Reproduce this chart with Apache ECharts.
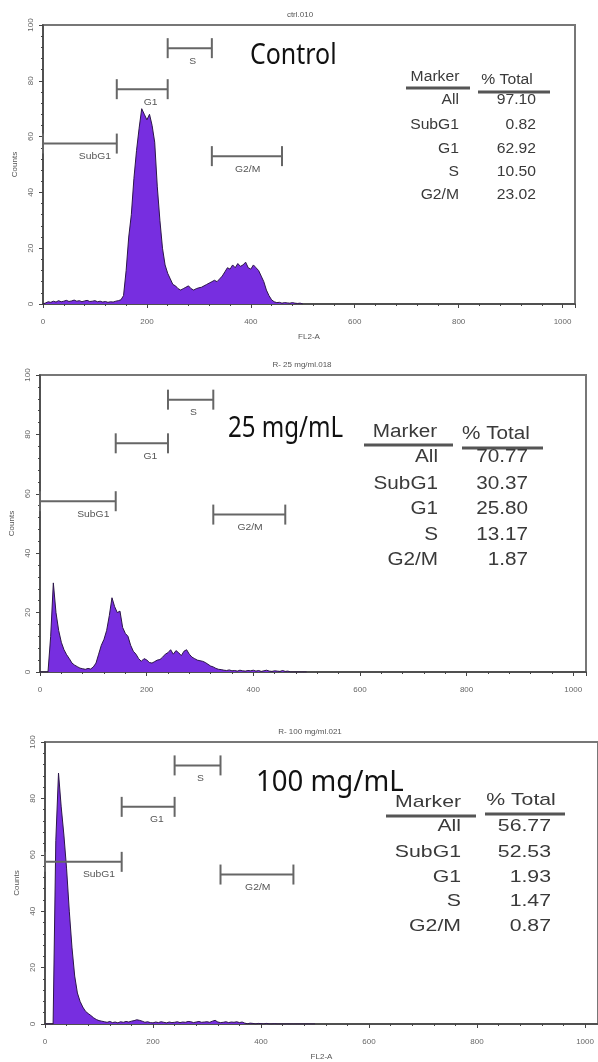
<!DOCTYPE html>
<html>
<head>
<meta charset="utf-8">
<script src="https://cdn.jsdelivr.net/npm/echarts@6/dist/echarts.min.js"></script>
<style>
  html, body { margin: 0; padding: 0; background: #fff; }
  #chart { width: 598px; height: 1062px; }
</style>
</head>
<body>
<div id="chart"></div>
<script>
// channel width of each count (FL2-A units)
const BIN = 5;

// counts per channel, FL2-A = 0, 5, 10 ... 500
const countsControl = [
  0, 0.4, 0.8, 0.6, 1.0, 0.7, 1.2, 0.8, 1.0, 1.3,
  0.9, 1.1, 1.4, 1.0, 1.2, 0.8, 1.1, 1.3, 0.9, 1.0,
  1.2, 0.8, 1.0, 0.7, 0.9, 0.6, 0.8, 0.7, 1.0, 1.2,
  1.5, 3, 12, 24, 32, 45, 55, 63, 70, 68,
  66, 68, 64, 58, 42, 30, 20, 14, 11, 9,
  7, 6.5, 5.5, 5, 5.5, 6, 6.5, 5.5, 5, 5.5,
  5.8, 6, 6.5, 7, 7.5, 8, 8.5, 8, 9, 10,
  11.5, 13, 12.5, 14, 13, 14.5, 13.5, 14, 15, 13,
  12.5, 14, 13, 12, 10, 8, 5, 3, 1.5, 0.8,
  0.5, 0.6, 0.3, 0.5, 0.4, 0.3, 0.5, 0.3, 0.2, 0.3,
  0
];
const counts25 = [
  0, 0, 0, 0, 12, 30, 20, 14, 10, 7.5,
  5.8, 4.5, 3, 2.3, 1.8, 1.3, 1.1, 0.9, 1.2, 1.0,
  1.7, 3, 6, 9, 11, 14, 19, 25, 22, 20,
  20.5, 15, 13, 12, 9, 7, 6, 4.5, 3.6, 4.5,
  4.1, 3.2, 3, 3.5, 4, 4.2, 5, 6, 6.5, 7.5,
  6, 7.2, 6.5, 5.5, 7, 7.5, 6, 5, 4.5, 4,
  3.8, 3.6, 3.2, 2.6, 2, 1.7, 1.2, 0.9, 0.8, 0.6,
  0.5, 0.7, 0.4, 0.5, 0.3, 0.6, 0.4, 0.3, 0.5, 0.4,
  0.6, 0.3, 0.5, 0.2, 0.4, 0.6, 0.3, 0.2, 0.4, 0.3,
  0.2, 0.5, 0.2, 0.3, 0, 0, 0, 0, 0, 0,
  0
];
const counts100 = [
  0, 0, 0, 0, 65, 89, 77, 67, 55, 40,
  27, 17, 11, 8, 6, 4.5, 3.7, 3, 2.2, 1.6,
  1.2, 1, 0.8, 0.6, 0.9, 0.5, 0.7, 0.4, 0.8, 0.6,
  0.9, 0.7, 1.0, 1.2, 1.5, 1.3, 1.0, 0.6, 0.8, 0.5,
  0.4, 0.7, 0.5, 0.8, 0.6, 0.4, 0.7, 0.5, 0.6, 0.8,
  0.5, 0.7, 0.6, 0.9, 0.8, 0.5, 0.7, 0.9, 0.6, 0.7,
  0.8, 0.6, 1.0, 1.3, 0.7, 0.5, 0.6, 0.8, 0.5, 0.7,
  0.6, 0.8, 0.5, 0.7, 0.3, 0.1, 0.3, 0.2, 0, 0.2,
  0.1, 0, 0.2, 0, 0, 0.1, 0, 0, 0, 0,
  0, 0, 0, 0, 0, 0, 0, 0, 0, 0,
  0
];

// gates (markers) drawn on every histogram
const gateNames = ['SubG1', 'G1', 'S', 'G2/M'];
const gateStart = [0, 142, 240, 325];
const gateEnd = [142, 240, 325, 460];
const gateLevel = [57.5, 77, 91.7, 53];
const gateLabelAt = [100, 207, 288, 394];

// statistics tables
const tableRows = ['All', 'SubG1', 'G1', 'S', 'G2/M'];
const pctControl = ['97.10', '0.82', '62.92', '10.50', '23.02'];
const pct25 = ['70.77', '30.37', '25.80', '13.17', '1.87'];
const pct100 = ['56.77', '52.53', '1.93', '1.47', '0.87'];

const xTicks = [0, 200, 400, 600, 800, 1000];
const yTicks = [0, 20, 40, 60, 80, 100];

const panels = [
  { counts: countsControl, pct: pctControl, file: 'ctrl.010', label: 'Control', showName: true,
    grid: { left: 43, top: 25, width: 532, height: 279 },
    fileX: 300, fileY: 15,
    big: { x: 250, y: 56, sx: 0.86 },
    tab: { font: 14, sx: 1.12, mHead: [435, 77], pHead: [507, 80], u1: [406, 470, 88], u2: [478, 550, 92],
           labR: 459, valR: 536, rows: [100, 125, 149, 172, 195] } },
  { counts: counts25, pct: pct25, file: 'R- 25 mg/ml.018', label: '25 mg/mL', showName: false,
    grid: { left: 40, top: 375, width: 546, height: 297 },
    fileX: 302, fileY: 365,
    big: { x: 228, y: 429, sx: 0.83 },
    tab: { font: 18, sx: 1.15, mHead: [405, 432], pHead: [496, 434], u1: [364, 453, 445], u2: [462, 543, 448],
           labR: 438, valR: 528, rows: [457, 484, 509, 535, 560] } },
  { counts: counts100, pct: pct100, file: 'R- 100 mg/ml.021', label: '100 mg/mL', showName: true,
    grid: { left: 45, top: 742, width: 555, height: 284 },
    fileX: 310, fileY: 732,
    big: { x: 256, y: 783, sx: 0.95 },
    tab: { font: 17, sx: 1.25, mHead: [428, 802], pHead: [521, 800], u1: [386, 476, 816], u2: [485, 565, 814],
           labR: 461, valR: 551, rows: [826, 852, 877, 901, 926] } }
];

const AXIS = '#444';
const SMALL = '8px "Liberation Sans", Arial, sans-serif';

function txt(x, y, text, font, align, opts) {
  return Object.assign({
    type: 'text', x: x, y: y, silent: true,
    style: {
      text: text, font: font, fill: (opts && opts.fill) || '#333',
      align: align, textAlign: align, verticalAlign: 'middle', textVerticalAlign: 'middle'
    }
  }, opts && opts.el);
}

const grids = [], xAxes = [], yAxes = [], series = [], graphics = [];

panels.forEach(function (p, i) {
  grids.push(Object.assign({ show: true, borderColor: '#777', borderWidth: 2, backgroundColor: '#fff' }, p.grid));

  xAxes.push({
    type: 'value', gridIndex: i, min: 0, max: 1024, interval: 200,
    name: p.showName ? 'FL2-A' : '', nameLocation: 'middle', nameGap: 29,
    nameTextStyle: { fontSize: 8, color: '#555', fontFamily: 'Liberation Sans' },
    axisLine: { lineStyle: { color: AXIS, width: 1.5 } },
    axisTick: { length: 4, lineStyle: { color: AXIS } },
    minorTick: { show: true, splitNumber: 5, length: 2, lineStyle: { color: AXIS } },
    axisLabel: { fontSize: 8, color: '#666', margin: 14, showMaxLabel: false, fontFamily: 'Liberation Sans',
      formatter: function (v) { return xTicks.indexOf(v) >= 0 ? String(v) : ''; } },
    splitLine: { show: false }
  });

  yAxes.push({
    type: 'value', gridIndex: i, min: 0, max: 100, interval: 20,
    name: 'Counts', nameLocation: 'middle', nameGap: 21,
    nameTextStyle: { fontSize: 8, color: '#555', fontFamily: 'Liberation Sans' },
    axisLine: { show: true, lineStyle: { color: AXIS, width: 1.5 } },
    axisTick: { show: true, length: 4, lineStyle: { color: AXIS } },
    minorTick: { show: true, splitNumber: 5, length: 2, lineStyle: { color: AXIS } },
    axisLabel: { fontSize: 8, color: '#666', rotate: 90, margin: 8, fontFamily: 'Liberation Sans',
      formatter: function (v) { return yTicks.indexOf(v) >= 0 ? String(v) : ''; } },
    splitLine: { show: false }
  });

  series.push({
    type: 'line', xAxisIndex: i, yAxisIndex: i,
    data: p.counts.map(function (c, k) { return [k * BIN, c]; }),
    showSymbol: false, smooth: false, z: 2,
    lineStyle: { color: '#2c1648', width: 1 },
    areaStyle: { color: '#772ee0', opacity: 1 }
  });

  series.push({
    type: 'custom', xAxisIndex: i, yAxisIndex: i, z: 3,
    data: gateNames.map(function (n, k) { return [gateStart[k], gateEnd[k], gateLevel[k], gateLabelAt[k]]; }),
    encode: { x: [0, 1, 3], y: 2 },
    renderItem: function (params, api) {
      const a = api.coord([api.value(0), api.value(2)]);
      const b = api.coord([api.value(1), api.value(2)]);
      const lx = api.coord([api.value(3), api.value(2)])[0];
      const st = { stroke: '#666', lineWidth: 2 };
      return {
        type: 'group',
        children: [
          { type: 'line', shape: { x1: a[0], y1: a[1], x2: b[0], y2: b[1] }, style: st },
          { type: 'line', shape: { x1: a[0], y1: a[1] - 10, x2: a[0], y2: a[1] + 10 }, style: st },
          { type: 'line', shape: { x1: b[0], y1: b[1] - 10, x2: b[0], y2: b[1] + 10 }, style: st },
          { type: 'text', x: lx, y: a[1] + 13, scaleX: 1.15,
            style: { text: gateNames[params.dataIndex], font: '9px "Liberation Sans", Arial, sans-serif',
              fill: '#555', align: 'center', textAlign: 'center', verticalAlign: 'middle', textVerticalAlign: 'middle' } }
        ]
      };
    }
  });

  // file name above the frame
  graphics.push(txt(p.fileX, p.fileY, p.file, SMALL, 'center', { fill: '#555' }));
  // sample label
  graphics.push(txt(p.big.x, p.big.y, p.label, '29px "Noto Sans", sans-serif', 'left',
    { fill: '#111', el: { scaleX: p.big.sx } }));

  // statistics table
  const t = p.tab;
  const f = t.font + 'px "Liberation Sans", Arial, sans-serif';
  graphics.push(txt(t.mHead[0], t.mHead[1], 'Marker', f, 'center', { fill: '#3a3a3a', el: { scaleX: t.sx } }));
  graphics.push(txt(t.pHead[0], t.pHead[1], '% Total', f, 'center', { fill: '#3a3a3a', el: { scaleX: t.sx } }));
  graphics.push({ type: 'line', silent: true, shape: { x1: t.u1[0], y1: t.u1[2], x2: t.u1[1], y2: t.u1[2] },
    style: { stroke: '#555', lineWidth: 3 } });
  graphics.push({ type: 'line', silent: true, shape: { x1: t.u2[0], y1: t.u2[2], x2: t.u2[1], y2: t.u2[2] },
    style: { stroke: '#555', lineWidth: 3 } });
  tableRows.forEach(function (r, k) {
    graphics.push(txt(t.labR, t.rows[k], r, f, 'right', { fill: '#3a3a3a', el: { scaleX: t.sx } }));
    graphics.push(txt(t.valR, t.rows[k], p.pct[k], f, 'right', { fill: '#3a3a3a', el: { scaleX: t.sx } }));
  });
});

const chart = echarts.init(document.getElementById('chart'), null, { renderer: 'canvas' });
chart.setOption({
  backgroundColor: '#fff',
  animation: false,
  grid: grids,
  xAxis: xAxes,
  yAxis: yAxes,
  series: series,
  graphic: { elements: graphics }
});
</script>
</body>
</html>
